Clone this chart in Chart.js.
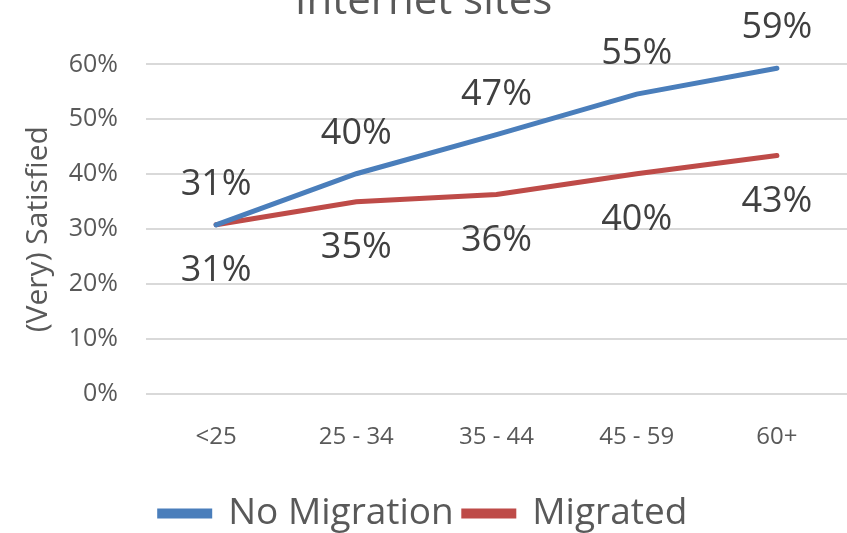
<!DOCTYPE html>
<html>
<head>
<meta charset="utf-8">
<script src="https://cdn.jsdelivr.net/npm/chart.js@4"></script>
<style>
  html, body { margin: 0; padding: 0; background: #fff; overflow: hidden; }
  .wrap { position: relative; width: 847px; height: 533px; overflow: hidden; }
  .wrap canvas { position: absolute; left: 0; top: -50px; }
</style>
</head>
<body>
<div class="wrap">
  <canvas id="trend-chart" width="847" height="583"></canvas>
</div>
<script>
const ageGroups = ["<25", "25 - 34", "35 - 44", "45 - 59", "60+"];
const noMigration = [30.8, 40.1, 47.2, 54.6, 59.3];
const migrated = [30.8, 35.0, 36.3, 40.1, 43.4];
const yTicks = [0, 10, 20, 30, 40, 50, 60];

const textGrey = "#595959";
const FONT = "'Open Sans', 'Noto Sans', sans-serif";

// draws the value labels above (blue) / below (red) each point
const valueLabels = {
  id: "valueLabels",
  afterDatasetsDraw(chart) {
    const c = chart.ctx;
    c.save();
    c.font = "36px " + FONT;
    c.fillStyle = "#404040";
    c.textAlign = "center";
    c.textBaseline = "middle";
    chart.data.datasets.forEach((ds, i) => {
      const meta = chart.getDatasetMeta(i);
      const side = i === 0 ? -40 : 46;
      meta.data.forEach((pt, j) => {
        c.fillText(Math.round(ds.data[j]) + "%", pt.x, pt.y + side);
      });
    });
    c.restore();
  },
};

const ctx = document.getElementById("trend-chart");

new Chart(ctx, {
  type: "line",
  data: {
    labels: ageGroups,
    datasets: [
      {
        label: "No Migration",
        data: noMigration,
        borderColor: "#4a7ebb",
        backgroundColor: "#4a7ebb",
        borderWidth: 5,
        pointRadius: 0,
        borderCapStyle: "round",
      },
      {
        label: "Migrated",
        data: migrated,
        borderColor: "#be4b48",
        backgroundColor: "#be4b48",
        borderWidth: 5,
        pointRadius: 0,
        borderCapStyle: "round",
      },
    ],
  },
  options: {
    responsive: false,
    animation: false,
    layout: { padding: { left: 0, right: 0, top: 0, bottom: -9 } },
    plugins: {
      title: {
        display: true,
        text: "Internet sites",
        color: textGrey,
        font: { family: FONT, size: 42, weight: "normal" },
        padding: { top: 27, bottom: 37 },
      },
      legend: {
        position: "bottom",
        labels: {
          color: textGrey,
          font: { family: FONT, size: 37 },
          boxWidth: 50,
          boxHeight: 5,
          padding: 10,
        },
      },
      tooltip: { enabled: false },
    },
    scales: {
      x: {
        offset: true,
        grid: { display: false, drawTicks: false },
        border: { display: false },
        ticks: { color: textGrey, font: { family: FONT, size: 24 }, padding: 29 },
        afterFit(scale) { scale.height = 91; },
      },
      y: {
        min: 0,
        max: 60,
        afterBuildTicks(scale) { scale.ticks = yTicks.map((v) => ({ value: v })); },
        grid: { color: "#d9d9d9", lineWidth: 2, drawTicks: false },
        border: { display: false },
        ticks: {
          color: textGrey,
          font: { family: FONT, size: 25 },
          padding: 28,
          callback: (v) => v + "%",
        },
        title: {
          display: true,
          text: "(Very) Satisfied",
          color: textGrey,
          font: { family: FONT, size: 30 },
          padding: { top: 20, bottom: 0 },
        },
        afterFit(scale) { scale.width = 146; },
      },
    },
  },
  plugins: [valueLabels],
});
</script>
</body>
</html>
